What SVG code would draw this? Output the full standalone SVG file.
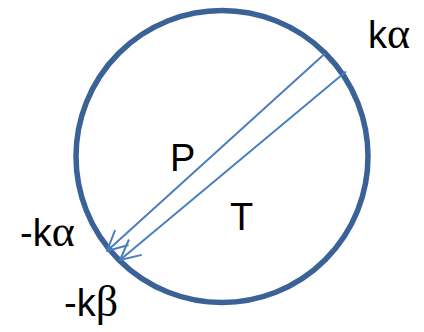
<svg xmlns="http://www.w3.org/2000/svg" width="424" height="332" viewBox="0 0 424 332">
<style>
.lbl{font-family:"Liberation Sans",Arial,sans-serif;font-size:38px;fill:#000}
.gr{font-family:"Liberation Serif","Times New Roman",serif;font-size:44px}
.ray{stroke:#4A7EBE;stroke-width:2;fill:none}
</style>
<defs>
<marker id="ah" markerUnits="userSpaceOnUse" markerWidth="30" markerHeight="30" refX="0" refY="0" viewBox="-25 -15 30 30" orient="auto" overflow="visible">
<path d="M-20,-10 L0,0 L-20,10" fill="none" stroke="#4A7EBE" stroke-width="2" stroke-linejoin="round"/>
</marker>
</defs>
<g id="circle">
<circle cx="222" cy="156.5" r="146" fill="none" stroke="#3A6296" stroke-width="5.5"/>
</g>
<g id="connectors">
<line class="ray" x1="325" y1="53.5" x2="107" y2="251" marker-end="url(#ah)"/>
<line class="ray" x1="346" y1="71.5" x2="120" y2="260" marker-end="url(#ah)"/>
</g>
<g id="label-ka"><text class="lbl" x="368" y="48">k<tspan class="gr">α</tspan></text></g>
<g id="label-mka"><text class="lbl" x="20" y="246">-k<tspan class="gr">α</tspan></text></g>
<g id="label-mkb"><text class="lbl" x="64" y="316">-k<tspan class="gr">β</tspan></text></g>
<g id="label-P"><text class="lbl" x="170" y="171">P</text></g>
<g id="label-T"><text class="lbl" x="230" y="230">T</text></g>
</svg>
